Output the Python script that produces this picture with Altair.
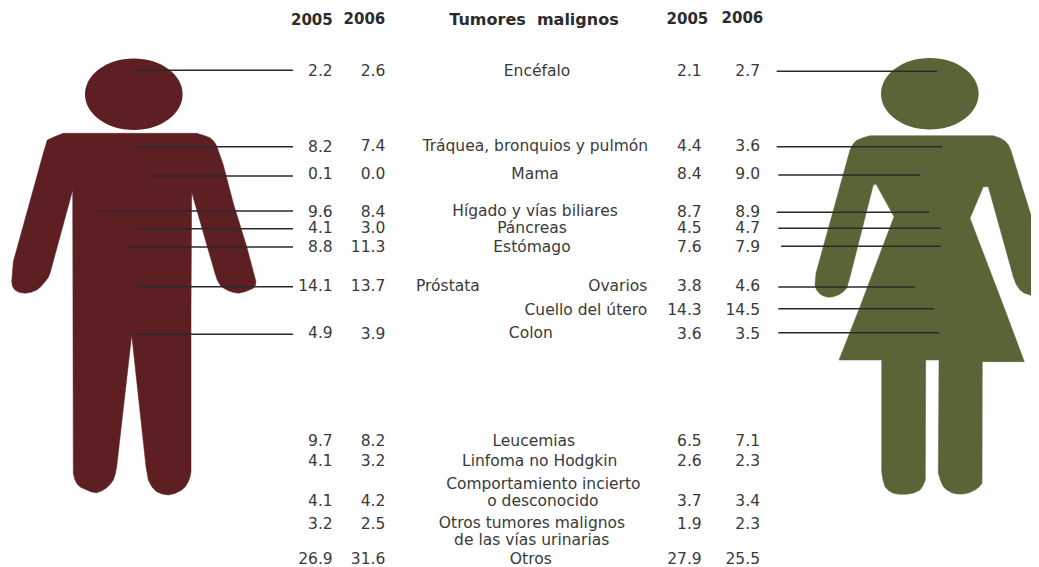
import altair as alt
import pandas as pd

# ---- values ----
labels = ["Encéfalo", "Tráquea, bronquios y pulmón", "Mama", "Hígado y vías biliares", "Páncreas",
          "Estómago", "Próstata", "Ovarios", "Cuello del útero", "Colon", "Leucemias",
          "Linfoma no Hodgkin", "Comportamiento incierto", "o desconocido",
          "Otros tumores malignos", "de las vías urinarias", "Otros"]
men_2005 = ["2.2", "8.2", "0.1", "9.6", "4.1", "8.8", "14.1", "4.9", "9.7", "4.1", "4.1", "3.2", "26.9"]
men_2006 = ["2.6", "7.4", "0.0", "8.4", "3.0", "11.3", "13.7", "3.9", "8.2", "3.2", "4.2", "2.5", "31.6"]
women_2005 = ["2.1", "4.4", "8.4", "8.7", "4.5", "7.6", "3.8", "14.3", "3.6", "6.5", "2.6", "3.7", "1.9", "27.9"]
women_2006 = ["2.7", "3.6", "9.0", "8.9", "4.7", "7.9", "4.6", "14.5", "3.5", "7.1", "2.3", "3.4", "2.3", "25.5"]
years = ["2005", "2006", "2005", "2006"]
heading = "Tumores\u00a0\u00a0malignos"

# ---- layout, kept apart from the values ----
label_x = [537, 535.3, 535, 535, 532, 532, 416, 647.3, 647.3, 530.8, 533.8, 539.7, 543.3, 542.8, 532, 531.7, 530.8]
label_y = [70.7, 146, 174.3, 211, 228, 246.7, 286, 286, 310, 333, 440.7, 461, 483.7, 501, 523, 540, 558.8]
label_align = ["center"] * 6 + ["left", "right", "right"] + ["center"] * 8
men_y_2005 = [70.7, 147.3, 174.3, 211.7, 228, 246.7, 286, 332.7, 440.7, 461, 501, 523.7, 558.8]
men_y_2006 = [70.7, 146.3, 174.3, 211.7, 228, 246.7, 286, 334, 440.7, 461, 501, 523.7, 558.8]
women_y_2005 = [70.7, 146.3, 174.3, 211.7, 228, 246.7, 286, 310, 334, 440.7, 461, 501, 523.7, 558.8]
women_y_2006 = [70.7, 146, 174.3, 211.7, 228, 246.7, 286, 310, 334, 440.7, 461, 501, 523.7, 558.8]
year_x = [332.7, 385.3, 708.3, 763.3]
year_y = [20, 18.7, 18.7, 18]

men_lead_start = [134, 131, 152, 98.5, 132, 127.5, 138, 131]
men_lead_y = [70.3, 146.7, 176, 211, 228.7, 247, 286.7, 334.3]
women_lead_start = [776.7, 776.7, 778.3, 776.7, 778.3, 781, 778.3, 778.3, 778.3]
women_lead_end = [937.3, 942.3, 920, 929.3, 940.7, 940.7, 915, 934, 939]
women_lead_y = [71.3, 146.7, 175, 212.3, 228.3, 246.3, 287, 308.7, 332.7]

man_outline = [(63.3,133.3),(196.7,133.3),(204,135.5),(210,137.7),(214,141.5),(216.7,146),(223.3,165),(233.3,203.3),(246.7,246.7),(256,281.7),
    (255.3,285.5),(253.3,288.3),(245,291.7),(238.3,293.3),(233,292.3),(228.3,290.7),(223.5,288),(220,285),(217,279.5),(215,273.3),(191.7,192.3),(191,310),(191,471.7),
    (190,477),(188.3,481.7),(185.5,486.5),(181.7,490),(175,493.5),(168.3,495),(162,494),(156.7,491.7),(152,487),(148.3,480),(146,466.7),(131.7,335),(116.7,466.7),(115.3,474),(113.3,480),
    (110,484.5),(106,488.3),(101.5,491),(96.7,492.7),(91.5,492),(86.7,490),(81,487.5),(77.3,484.3),(74.8,479.5),(73.3,473.3),(72.7,190),(50,273.3),(48,278),(45,281.7),(41,286.5),(36.7,290),(31,292.3),(25,293.3),
    (19,292.3),(15,290),(12.5,286.5),(11.7,281.7),(13.3,261.7),(43.3,153.3),(47.3,140),(55,136.5)]
woman_outline = [(870,135.7),(993.3,135.7),(1000,138),(1005,141),(1008.5,145),(1010.7,150),(1020,180),(1039,241),(1050,280),(1046,294),(1039,297.3),
    (1030,295),(1024,293),(1020,290),(1016,284),(1013.3,276.7),(988.3,186.7),(983.3,186.7),(970,218.3),(1005,310),(1024.3,361.7),(982.3,361.7),
    (982,483.3),(979,487),(975,490),(969,492.8),(963.3,494),(957,494),(951.7,492.7),(947,490),(943.3,486.7),(940.5,480.5),(938.3,473.3),(939,360),(925.7,360),(925.3,480),(923,485.5),(920,490),
    (914,493),(906.7,494.3),(899.5,494.3),(893.3,493.3),(888.5,490.5),(885,486.7),(883,480),(881.7,471.7),(881.7,360),(839,360),(860,306.7),(894,216.7),(876,184),(873.3,185),
    (850,276.7),(846.7,288.3),(843,292),(838.3,295),(833,296.8),(828.3,297.3),(823.5,296),(820,294),(816.5,290),(815,285),(816,273.3),(850,150),(852.5,145),(856,140.7),(862,138)]
heads = pd.DataFrame({"x": [133.8, 929.8], "y": [94.2, 93.8], "who": ["man", "woman"]})

MAN, WOMAN, INK, LEAD = "#5e1f22", "#5a6537", "#3a3a3a", "#2a2a2a"
FONT, LABEL, NUM, BOLD, TITLE = "DejaVu Sans", 15.5, 15.5, 15, 16

X = alt.X("x:Q", scale=alt.Scale(domain=[8, 1031], nice=False, zero=False), axis=None)
Y = alt.Y("y:Q", scale=alt.Scale(domain=[567, 8], nice=False, zero=False), axis=None)


def shape(outline, color):
    df = pd.DataFrame(outline, columns=["x", "y"]).reset_index()
    df = pd.concat([df, df.iloc[[0]].assign(index=len(df))])
    return alt.Chart(df).mark_line(fill=color, stroke=color, strokeWidth=0.5, clip=False).encode(X, Y, order="index:Q")


def texts(strings, xs, ys, align="right", size=NUM):
    df = pd.DataFrame({"t": strings, "x": xs, "y": ys})
    return alt.Chart(df).mark_text(align=align, baseline="middle", font=FONT, fontSize=size, color=INK).encode(X, Y, text="t:N")


head_path = "M-1,0A1,0.733,0,1,1,1,0A1,0.733,0,1,1,-1,0Z"
head_layer = alt.Chart(heads).mark_point(shape=head_path, size=9526, filled=True, opacity=1).encode(
    X, Y, color=alt.Color("who:N", scale=alt.Scale(domain=["man", "woman"], range=[MAN, WOMAN]), legend=None))

men_rules = alt.Chart(pd.DataFrame({"x": men_lead_start, "x2": [293] * 8, "y": men_lead_y})).mark_rule(
    color=LEAD, strokeWidth=1.4).encode(X, x2="x2:Q", y=Y)
women_rules = alt.Chart(pd.DataFrame({"x": women_lead_start, "x2": women_lead_end, "y": women_lead_y})).mark_rule(
    color=LEAD, strokeWidth=1.4).encode(X, x2="x2:Q", y=Y)

year_layer = alt.Chart(pd.DataFrame({"t": years, "x": year_x, "y": year_y})).mark_text(
    align="right", baseline="middle", font=FONT, fontSize=BOLD, fontWeight="bold", color="#2b2b2b").encode(X, Y, text="t:N")
head_title = alt.Chart(pd.DataFrame({"t": [heading], "x": [534], "y": [20]})).mark_text(
    align="center", baseline="middle", font=FONT, fontSize=TITLE, fontWeight="bold", color="#2b2b2b").encode(X, Y, text="t:N")

label_df = pd.DataFrame({"t": labels, "x": label_x, "y": label_y, "a": label_align})
label_layers = [texts(label_df[label_df.a == a].t.tolist(), label_df[label_df.a == a].x.tolist(),
                      label_df[label_df.a == a].y.tolist(), align=a, size=LABEL) for a in ["center", "left", "right"]]

chart = alt.layer(
    shape(man_outline, MAN), shape(woman_outline, WOMAN), head_layer, men_rules, women_rules,
    year_layer, head_title, *label_layers,
    texts(men_2005, [year_x[0]] * len(men_2005), men_y_2005),
    texts(men_2006, [year_x[1]] * len(men_2006), men_y_2006),
    texts(women_2005, [701.7] * len(women_2005), women_y_2005),
    texts(women_2006, [760] * len(women_2006), women_y_2006),
).properties(width=1023, height=559, padding=0, autosize=alt.AutoSizeParams(type="none")).configure_view(stroke=None)

chart.save("out.html", embed_options={"renderer": "svg", "actions": False})
